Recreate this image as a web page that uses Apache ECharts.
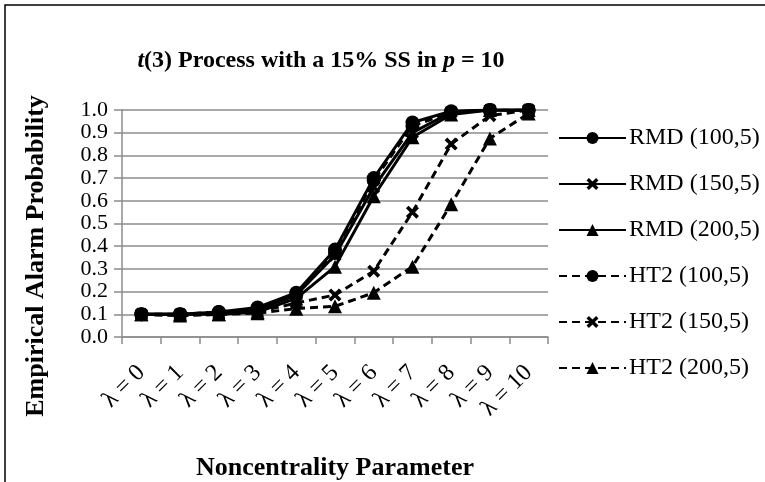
<!DOCTYPE html>
<html>
<head>
<meta charset="utf-8">
<script src="https://cdn.jsdelivr.net/npm/echarts@6/dist/echarts.min.js"></script>
<style>
  html, body { margin: 0; padding: 0; background: #fff; }
  #chart { width: 765px; height: 482px; }
</style>
</head>
<body>
<div id="chart"></div>
<script>
// Noncentrality levels on the category axis
const lambdas = [0, 1, 2, 3, 4, 5, 6, 7, 8, 9, 10];
const categories = lambdas.map(function (v) { return 'λ = ' + v; });

// Empirical alarm probabilities per chart
const rmd100 = [0.10, 0.10, 0.11, 0.13, 0.195, 0.385, 0.70, 0.945, 0.995, 1.00, 1.00];
const rmd150 = [0.10, 0.10, 0.105, 0.12, 0.185, 0.36, 0.66, 0.90, 0.99, 1.00, 1.00];
const rmd200 = [0.10, 0.10, 0.10, 0.11, 0.17, 0.31, 0.62, 0.88, 0.98, 1.00, 1.00];
const ht2_100 = [0.10, 0.10, 0.11, 0.125, 0.185, 0.37, 0.69, 0.93, 0.99, 1.00, 1.00];
const ht2_150 = [0.10, 0.095, 0.10, 0.11, 0.15, 0.185, 0.29, 0.55, 0.85, 0.975, 1.00];
const ht2_200 = [0.10, 0.095, 0.10, 0.105, 0.125, 0.135, 0.195, 0.31, 0.585, 0.875, 0.985];

const yTicks = [0, 0.1, 0.2, 0.3, 0.4, 0.5, 0.6, 0.7, 0.8, 0.9, 1.0];

const FONT = "'Liberation Serif', 'Times New Roman', serif";

// Bold "x" marker drawn as a path
const crossSymbol = 'path://M0,2 L2,0 L5,3 L8,0 L10,2 L7,5 L10,8 L8,10 L5,7 L2,10 L0,8 L3,5 Z';

function makeSeries(name, data, symbol, dashed) {
  return {
    name: name,
    type: 'line',
    data: data,
    symbol: symbol,
    symbolSize: symbol === crossSymbol ? 13 : 14,
    showSymbol: true,
    lineStyle: { color: '#000', width: 3, type: dashed ? [8, 5] : 'solid' },
    itemStyle: { color: '#000' },
    emphasis: { disabled: true },
    z: 3
  };
}

const chart = echarts.init(document.getElementById('chart'), null, { renderer: 'canvas' });

chart.setOption({
  backgroundColor: '#fff',
  animation: false,
  title: {
    text: '{i|t}{b|(3) Process with a 15% SS in }{i|p}{b| = 10}',
    left: 316,
    textAlign: 'center',
    top: 44,
    textStyle: {
      rich: {
        b: { fontFamily: FONT, fontWeight: 'bold', fontSize: 24, color: '#000' },
        i: { fontFamily: FONT, fontWeight: 'bold', fontStyle: 'italic', fontSize: 24, color: '#000' }
      }
    }
  },
  legend: {
    orient: 'vertical',
    left: 553,
    top: 121,
    itemWidth: 67,
    itemHeight: 15,
    itemGap: 22,
    data: ['RMD (100,5)', 'RMD (150,5)', 'RMD (200,5)', 'HT2 (100,5)', 'HT2 (150,5)', 'HT2 (200,5)'],
    textStyle: { fontFamily: FONT, fontSize: 24, color: '#000', lineHeight: 24, padding: [0, 0, 0, -2] },
    selectedMode: false
  },
  grid: { left: 122, top: 110, width: 426, height: 237, containLabel: false },
  xAxis: {
    type: 'category',
    data: categories,
    boundaryGap: true,
    axisLine: { lineStyle: { color: '#8c8c8c', width: 1.5 } },
    axisTick: { show: true, length: 7, lineStyle: { color: '#8c8c8c', width: 1.5 } },
    axisLabel: { rotate: 45, fontFamily: FONT, fontSize: 24, color: '#000', margin: 32, interval: 0 },
    name: 'Noncentrality Parameter',
    nameLocation: 'middle',
    nameGap: 118,
    nameTextStyle: { fontFamily: FONT, fontWeight: 'bold', fontSize: 26, color: '#000' }
  },
  yAxis: {
    type: 'value',
    min: yTicks[0],
    max: yTicks[yTicks.length - 1],
    interval: 0.1,
    axisLine: { show: true, lineStyle: { color: '#8c8c8c', width: 1.5 } },
    axisTick: { show: true, length: 8, lineStyle: { color: '#8c8c8c', width: 1.5 } },
    splitLine: { lineStyle: { color: '#8c8c8c', width: 1.5 } },
    axisLabel: {
      fontFamily: FONT, fontSize: 22, lineHeight: 18, color: '#000', margin: 14,
      showMinLabel: true, showMaxLabel: true, hideOverlap: false,
      formatter: function (v) { return v.toFixed(1); }
    }
  },
  graphic: [
    {
      type: 'rect',
      shape: { x: 5, y: 5, width: 800, height: 520 },
      style: { fill: null, stroke: '#000', lineWidth: 1.5 },
      silent: true,
      z: 10
    },
    {
      // vertical value-axis title
      type: 'text',
      x: 36,
      y: 256,
      rotation: Math.PI / 2,
      style: {
        text: 'Empirical Alarm Probability',
        font: "bold 26px 'Liberation Serif', 'Times New Roman', serif",
        fill: '#000',
        textAlign: 'center',
        textVerticalAlign: 'middle'
      },
      silent: true
    }
  ],
  series: [
    makeSeries('RMD (100,5)', rmd100, 'circle', false),
    makeSeries('RMD (150,5)', rmd150, crossSymbol, false),
    makeSeries('RMD (200,5)', rmd200, 'triangle', false),
    makeSeries('HT2 (100,5)', ht2_100, 'circle', true),
    makeSeries('HT2 (150,5)', ht2_150, crossSymbol, true),
    makeSeries('HT2 (200,5)', ht2_200, 'triangle', true)
  ]
});
</script>
</body>
</html>
